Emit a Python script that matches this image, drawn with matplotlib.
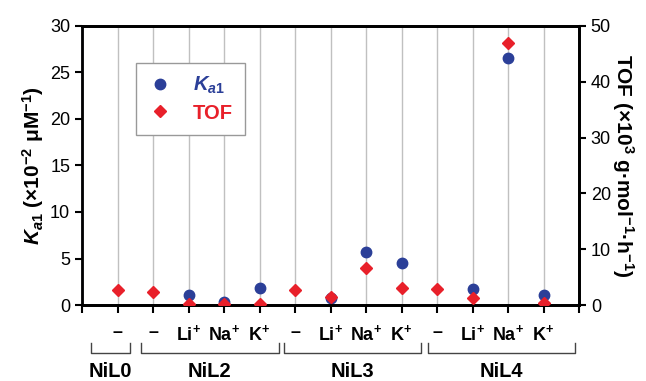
import matplotlib

matplotlib.use("Agg")
import matplotlib.pyplot as plt
import matplotlib.transforms as mtransforms
import numpy as np

plt.rcParams["font.family"] = ["Liberation Sans", "DejaVu Sans"]
plt.rcParams["mathtext.fontset"] = "custom"
plt.rcParams["mathtext.rm"] = "Liberation Sans:bold"
plt.rcParams["mathtext.it"] = "Liberation Sans:bold:italic"
plt.rcParams["mathtext.bf"] = "Liberation Sans:bold"

# data
cat_labels = ["–", "–", "Li$^{+}$", "Na$^{+}$", "K$^{+}$",
              "–", "Li$^{+}$", "Na$^{+}$", "K$^{+}$",
              "–", "Li$^{+}$", "Na$^{+}$", "K$^{+}$"]
ka1 = [np.nan, np.nan, 1.08, 0.36, 1.8, np.nan, 0.72, 5.73, 4.48, np.nan, 1.68, 26.6, 1.08]
tof = [2.7, 2.4, 0.2, 0.2, 0.2, 2.7, 1.4, 6.6, 3.0, 2.8, 1.2, 47.0, 0.3]
groups = ["NiL0", "NiL2", "NiL3", "NiL4"]
group_spans = [(0.25, 1.35), (1.65, 5.55), (5.7, 9.55), (9.75, 13.9)]

BLUE = "#2b3f98"
RED = "#e8202a"
KA1 = r"$\mathit{K}_{\mathit{a1}}$"

x = np.arange(1, len(cat_labels) + 1)

fig = plt.figure(figsize=(6.46, 3.81), dpi=100)
ax = fig.add_axes([82 / 646, 1 - 305 / 381, 497 / 646, 279 / 381])
ax2 = ax.twinx()

for xi in x:
    ax.axvline(xi, color="#c0c0c0", linewidth=1.0, zorder=0)

ax.plot(x, ka1, "o", color=BLUE, markersize=7.5, zorder=3, label=KA1)
ax2.plot(x, tof, "D", color=RED, markersize=6.5, zorder=4, label="TOF")

ax.set_xlim(0, 14)
ax.set_ylim(0, 30)
ax2.set_ylim(0, 50)
ax.set_yticks(np.arange(0, 31, 5))
ax2.set_yticks(np.arange(0, 51, 10))
ax.set_xticks(np.arange(0, 15))
ax.set_xticklabels([""] + cat_labels + [""], fontweight="bold")

for a in (ax, ax2):
    a.tick_params(direction="out", length=5, width=1.5, labelsize=13)
    for s in a.spines.values():
        s.set_linewidth(2)
ax.tick_params(axis="x", pad=8, labelsize=13, length=6)
ax.spines["left"].set_linewidth(1)
ax.spines["left"].set_color("#1c1c50")

ax.set_ylabel(KA1 + r" (×10$^{-2}$ μM$^{-1}$)", fontsize=15,
              fontweight="bold", labelpad=3)
ax2.set_ylabel(r"TOF (×10$^{3}$ g·mol$^{-1}$·h$^{-1}$)", fontsize=15,
               fontweight="bold", rotation=270, labelpad=18)

# group brackets under the axis
trans = mtransforms.blended_transform_factory(ax.transData, ax.transAxes)
for name, (x0, x1) in zip(groups, group_spans):
    ax.plot([x0, x0, x1, x1], [-0.136, -0.172, -0.172, -0.136], color="#444444",
            linewidth=1, transform=trans, clip_on=False)
    ax.text((x0 + x1) / 2, -0.237, name, transform=trans, ha="center", va="center",
            fontsize=14.5, fontweight="bold")

h1, l1 = ax.get_legend_handles_labels()
h2, l2 = ax2.get_legend_handles_labels()
leg = ax2.legend(h1 + h2, l1 + l2, loc="upper left", bbox_to_anchor=(0.109, 0.867),
                 borderaxespad=0, fontsize=14.5, fancybox=False, edgecolor="#999999",
                 framealpha=1, borderpad=0.6, handletextpad=1.0, labelspacing=0.35,
                 handlelength=1.2)
leg.get_frame().set_linewidth(1)
for t, c in zip(leg.get_texts(), [BLUE, RED]):
    t.set_color(c)
    t.set_fontweight("bold")

fig.savefig("out.png", dpi=100)
